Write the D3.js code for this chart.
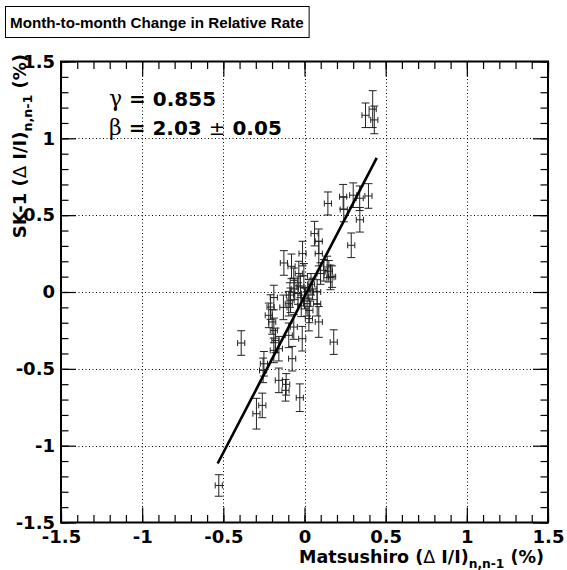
<!DOCTYPE html>
<html>
<head>
<meta charset="utf-8">
<script src="https://cdn.jsdelivr.net/npm/d3@7"></script>
<style>
  html, body { margin: 0; padding: 0; background: #fff; }
</style>
</head>
<body>
<svg id="chart" width="567" height="570" font-family="DejaVu Sans, sans-serif"></svg>
<script>
// Monthly change of the relative rate: Matsushiro (x) vs SK-1 (y), in %
const matsushiro = [
  0.376, 0.42, 0.43,
  0.144, 0.238, 0.242, 0.30, 0.34, 0.394, 0.341, 0.288,
  0.062, 0.088, -0.012, 0.088,
  -0.127, -0.08, -0.035, -0.004, -0.066,
  0.099, 0.14, 0.15, 0.16, 0.119, 0.17,
  -0.025, 0.027, -0.189, -0.09, 0.078, -0.04, 0.0, 0.04, -0.06,
  -0.209, -0.22, -0.199, -0.189, -0.179, -0.158, -0.189,
  -0.066, -0.097, -0.014, 0.027, 0.088,
  -0.097, 0.016, 0.078, 0.18, -0.076, -0.25, -0.39, -0.255,
  -0.158, -0.113, -0.117, -0.029, -0.26, -0.296, -0.528,
  -0.086, 0.03, -0.13, 0.05, -0.02
];
const sk1 = [
  1.15, 1.19, 1.12,
  0.576, 0.62, 0.537, 0.63, 0.61, 0.625, 0.47, 0.304,
  0.38, 0.33, 0.25, 0.25,
  0.189, 0.167, 0.12, 0.105, 0.076,
  0.12, 0.163, 0.135, 0.095, 0.141, 0.10,
  0.033, 0.011, -0.036, -0.02, 0.0, -0.01, -0.04, 0.05, 0.02,
  -0.098, -0.152, -0.195, -0.25, -0.315, -0.369, -0.38,
  -0.228, -0.282, -0.304, -0.173, -0.195,
  -0.076, -0.076, -0.076, -0.326, -0.434, -0.467, -0.332, -0.51,
  -0.575, -0.601, -0.64, -0.688, -0.738, -0.792, -1.259,
  -0.054, -0.12, -0.1, 0.02, -0.09
];
const matsushiroErr = [
  0.022, 0.022, 0.022,
  0.022, 0.022, 0.022, 0.022, 0.022, 0.022, 0.022, 0.022,
  0.022, 0.022, 0.022, 0.022,
  0.022, 0.022, 0.022, 0.022, 0.022,
  0.022, 0.022, 0.022, 0.022, 0.022, 0.022,
  0.022, 0.022, 0.022, 0.022, 0.022, 0.022, 0.022, 0.022, 0.022,
  0.022, 0.022, 0.022, 0.022, 0.022, 0.022, 0.022,
  0.022, 0.022, 0.022, 0.022, 0.022,
  0.022, 0.022, 0.022, 0.022, 0.022, 0.022, 0.022, 0.022,
  0.022, 0.022, 0.022, 0.022, 0.022, 0.022, 0.022,
  0.022, 0.022, 0.022, 0.022, 0.022
];
const sk1Err = [
  0.08, 0.12, 0.09,
  0.075, 0.08, 0.08, 0.08, 0.08, 0.08, 0.08, 0.08,
  0.08, 0.08, 0.08, 0.08,
  0.08, 0.08, 0.08, 0.08, 0.08,
  0.07, 0.07, 0.07, 0.08, 0.07, 0.07,
  0.07, 0.07, 0.08, 0.08, 0.08, 0.07, 0.07, 0.07, 0.07,
  0.08, 0.08, 0.08, 0.08, 0.08, 0.08, 0.08,
  0.08, 0.08, 0.08, 0.08, 0.1,
  0.08, 0.08, 0.08, 0.08, 0.08, 0.08, 0.08, 0.08,
  0.08, 0.07, 0.07, 0.09, 0.08, 0.1, 0.07,
  0.08, 0.08, 0.08, 0.07, 0.07
];

// Linear fit drawn over the data range
const fitSlope = 2.03;          // beta
const fitSlopeErr = 0.05;
const fitIntercept = -0.03;
const fitRange = [-0.535, 0.445];
const correlation = 0.855;      // gamma

// Axis ticks
const xMajor = [-1.5, -1, -0.5, 0, 0.5, 1, 1.5];
const yMajor = [-1.5, -1, -0.5, 0, 0.5, 1, 1.5];
const xTickLabels = ["-1.5", "-1", "-0.5", "0", "0.5", "1", "1.5"];
const yTickLabels = ["-1.5", "-1", "-0.5", "0", "0.5", "1", "1.5"];
const gridValues = [-1, -0.5, 0, 0.5, 1];
const minorValues = d3.range(-15, 16).map(d => d / 10);

const titleText = "Month-to-month Change in Relative Rate";

const svg = d3.select("#chart");
const frame = { left: 61, right: 548, top: 61.5, bottom: 522.5 };

const x = d3.scaleLinear().domain([-1.5, 1.5]).range([frame.left, frame.right]);
const y = d3.scaleLinear().domain([-1.5, 1.5]).range([frame.bottom, frame.top]);

svg.append("rect").attr("width", 567).attr("height", 570).attr("fill", "#fff");

// Dotted grid at the major ticks
const grid = svg.append("g").attr("stroke", "#000").attr("stroke-width", 1)
  .attr("stroke-dasharray", "1,2.5");
grid.selectAll(".gx").data(gridValues).join("line")
  .attr("x1", d => Math.round(x(d)) + 0.5).attr("x2", d => Math.round(x(d)) + 0.5)
  .attr("y1", frame.top).attr("y2", frame.bottom);
grid.selectAll(".gy").data(gridValues).join("line")
  .attr("y1", d => Math.round(y(d)) + 0.5).attr("y2", d => Math.round(y(d)) + 0.5)
  .attr("x1", frame.left).attr("x2", frame.right);

// Ticks on all four sides, pointing into the frame
function tickAxis(axisFn, scale, values, size, transform, labels) {
  const a = axisFn(scale).tickValues(values).tickSizeInner(-size).tickSizeOuter(0);
  if (labels) {
    a.tickFormat((d, i) => labels[i]).tickPadding(labels.pad);
  } else {
    a.tickFormat("");
  }
  const g = svg.append("g").attr("transform", transform).call(a);
  g.select(".domain").remove();
  g.selectAll(".tick line").attr("stroke", "#000").attr("stroke-width", 1.2);
  return g;
}

const xl = xTickLabels.slice(); xl.pad = 8;
const yl = yTickLabels.slice(); yl.pad = 6;

const gxb = tickAxis(d3.axisBottom, x, xMajor, 15, `translate(0,${frame.bottom})`, xl);
tickAxis(d3.axisBottom, x, minorValues, 7.5, `translate(0,${frame.bottom})`);
tickAxis(d3.axisTop, x, xMajor, 15, `translate(0,${frame.top})`);
tickAxis(d3.axisTop, x, minorValues, 7.5, `translate(0,${frame.top})`);
const gyl = tickAxis(d3.axisLeft, y, yMajor, 15, `translate(${frame.left},0)`, yl);
tickAxis(d3.axisLeft, y, minorValues, 7.5, `translate(${frame.left},0)`);
tickAxis(d3.axisRight, y, yMajor, 15, `translate(${frame.right},0)`);
tickAxis(d3.axisRight, y, minorValues, 7.5, `translate(${frame.right},0)`);

[gxb, gyl].forEach(g => {
  g.attr("font-family", "DejaVu Sans, sans-serif");
  g.selectAll(".tick text")
    .attr("font-weight", "bold").attr("font-size", 18).attr("fill", "#000");
});

// Frame
svg.append("rect")
  .attr("x", frame.left).attr("y", frame.top)
  .attr("width", frame.right - frame.left).attr("height", frame.bottom - frame.top)
  .attr("fill", "none").attr("stroke", "#000").attr("stroke-width", 2);

// Data points with x and y error bars
const pts = matsushiro.map((v, i) => ({ x: v, y: sk1[i], ex: matsushiroErr[i], ey: sk1Err[i] }));
const eg = svg.append("g").attr("stroke", "#222").attr("stroke-width", 1).attr("fill", "none");
const pg = eg.selectAll("g").data(pts).join("g");
pg.append("line")
  .attr("x1", d => x(d.x)).attr("x2", d => x(d.x))
  .attr("y1", d => y(d.y - d.ey)).attr("y2", d => y(d.y + d.ey));
pg.append("line")
  .attr("x1", d => x(d.x) - 4).attr("x2", d => x(d.x) + 4)
  .attr("y1", d => y(d.y + d.ey)).attr("y2", d => y(d.y + d.ey));
pg.append("line")
  .attr("x1", d => x(d.x) - 4).attr("x2", d => x(d.x) + 4)
  .attr("y1", d => y(d.y - d.ey)).attr("y2", d => y(d.y - d.ey));
pg.append("line")
  .attr("x1", d => x(d.x - d.ex)).attr("x2", d => x(d.x + d.ex))
  .attr("y1", d => y(d.y)).attr("y2", d => y(d.y));
pg.append("line")
  .attr("x1", d => x(d.x - d.ex)).attr("x2", d => x(d.x - d.ex))
  .attr("y1", d => y(d.y) - 3).attr("y2", d => y(d.y) + 3);
pg.append("line")
  .attr("x1", d => x(d.x + d.ex)).attr("x2", d => x(d.x + d.ex))
  .attr("y1", d => y(d.y) - 3).attr("y2", d => y(d.y) + 3);

// Fit line
const fitLine = d3.line().x(d => x(d)).y(d => y(fitIntercept + fitSlope * d));
svg.append("path").datum(fitRange)
  .attr("d", fitLine).attr("fill", "none").attr("stroke", "#000").attr("stroke-width", 2.6);

// Fit results
const stats = svg.append("g").attr("font-size", 20).attr("fill", "#000");
const t1 = stats.append("text").attr("x", 109).attr("y", 106);
t1.append("tspan").attr("font-family", "DejaVu Serif, serif").attr("font-size", 22).text("γ");
t1.append("tspan").attr("font-weight", "bold").text(" = " + correlation.toFixed(3));
const t2 = stats.append("text").attr("x", 109).attr("y", 135);
t2.append("tspan").attr("font-family", "DejaVu Serif, serif").attr("font-size", 22).text("β");
t2.append("tspan").attr("font-weight", "bold").text(" = " + fitSlope.toFixed(2) + " ");
t2.append("tspan").text("±");
t2.append("tspan").attr("font-weight", "bold").text(" " + fitSlopeErr.toFixed(2));

// Axis titles
const xt = svg.append("text").attr("x", 544).attr("y", 563)
  .attr("text-anchor", "end").attr("font-size", 17.5).attr("font-weight", "bold");
xt.append("tspan").text("Matsushiro (");
xt.append("tspan").attr("font-weight", "normal").text("Δ");
xt.append("tspan").text(" I/I)");
xt.append("tspan").attr("font-size", "70%").attr("dy", 5).text("n,n-1");
xt.append("tspan").attr("dy", -5).text(" (%)");

const yt = svg.append("text").attr("transform", "translate(26,54) rotate(-90)")
  .attr("text-anchor", "end").attr("font-size", 18).attr("font-weight", "bold");
yt.append("tspan").text("SK-1 (");
yt.append("tspan").attr("font-weight", "normal").text("Δ");
yt.append("tspan").text(" I/I)");
yt.append("tspan").attr("font-size", "70%").attr("dy", 6).text("n,n-1");
yt.append("tspan").attr("dy", -6).text(" (%)");

// Title box sized to its text
const titleBox = svg.append("rect")
  .attr("x", 5.5).attr("y", 6.5).attr("height", 31)
  .attr("fill", "#fff").attr("stroke", "#000").attr("stroke-width", 1);
const title = svg.append("text").attr("x", 10).attr("y", 28)
  .attr("font-family", "Liberation Sans, Arial, sans-serif")
  .attr("font-size", 15.2).attr("font-weight", "bold")
  .text(titleText);
titleBox.attr("width", title.node().getComputedTextLength() + 10);
</script>
</body>
</html>
